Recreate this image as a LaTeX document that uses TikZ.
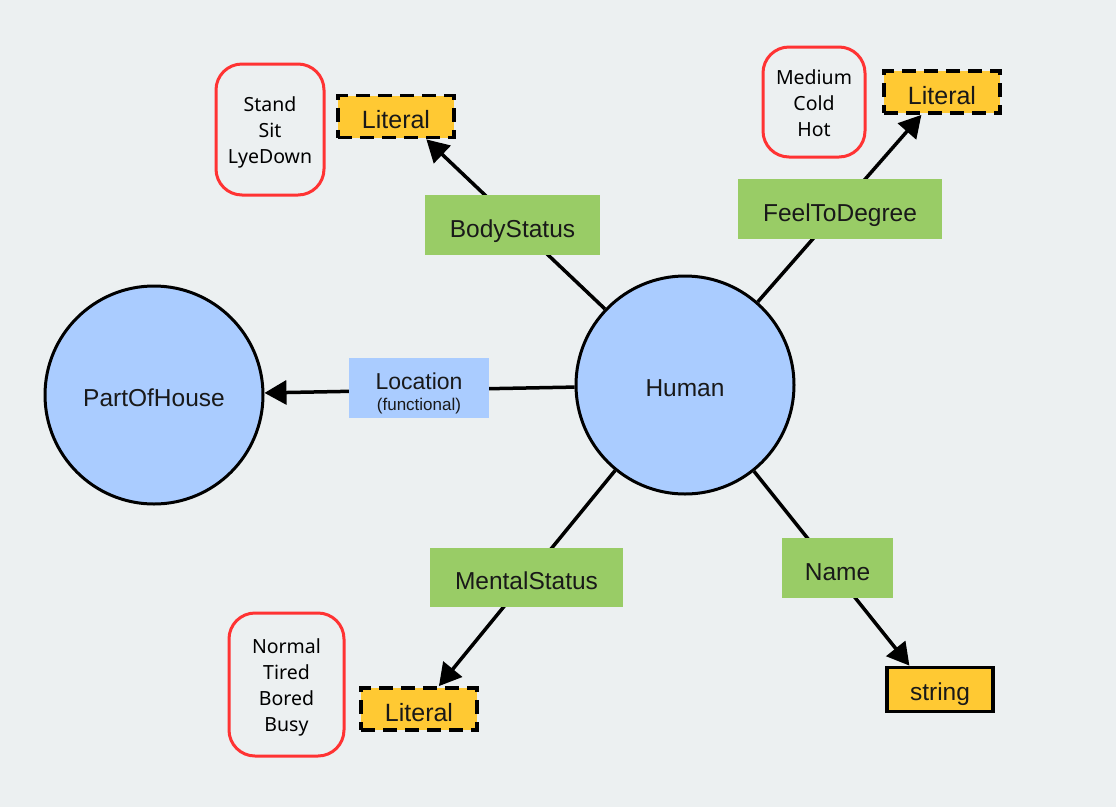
\documentclass[tikz,border=0pt]{standalone}
\usepackage{fontspec}
\setmainfont{Liberation Sans}
\newfontfamily\listfont{Noto Sans}
\usetikzlibrary{arrows.meta}
\definecolor{bg}{RGB}{236,240,241}
\definecolor{circblue}{RGB}{170,204,255}
\definecolor{relgreen}{RGB}{153,204,102}
\definecolor{lityellow}{RGB}{255,201,51}
\definecolor{listred}{RGB}{255,51,51}
\definecolor{txt}{RGB}{25,25,25}
\newcommand{\firststrut}[1]{\rule{0pt}{#1}}
\tikzset{
  classnode/.style={circle, draw=black, line width=3pt, fill=circblue, minimum size=218pt, inner sep=0pt, font=\fontsize{24.5}{28}\selectfont, text=txt, text height=23pt, text depth=0pt},
  relbox/.style={rectangle, fill=relgreen, inner sep=0pt, font=\fontsize{24.5}{28}\selectfont, text=txt, text height=24pt, text depth=0pt},
  litbox/.style={rectangle, fill=lityellow, draw=black, line width=3.8pt, dash pattern=on 14pt off 8pt, inner sep=0pt, minimum width=116pt, minimum height=42pt, font=\fontsize{25}{28}\selectfont, text=txt, text height=24pt, text depth=0pt},
  strbox/.style={rectangle, fill=lityellow, draw=black, line width=3.8pt, inner sep=0pt, minimum width=106pt, minimum height=44pt, font=\fontsize{24.5}{28}\selectfont, text=txt, text height=22pt, text depth=0pt},
  listbox/.style={rectangle, rounded corners=26pt, draw=listred, line width=3pt, fill=bg, inner sep=0pt, align=center, font=\listfont\fontsize{19.5}{26}\selectfont, text=black},
  conn/.style={line width=3.5pt, draw=black},
  arr/.style={conn, -{Triangle[length=22pt,width=24pt]}},
}
\begin{document}
\begin{tikzpicture}[x=1pt,y=-1pt]
\fill[bg] (0,0) rectangle (1116,807);
\useasboundingbox (0,0) rectangle (1116,807);

\node[classnode] (human) at (685,385) {Human};
\node[classnode] (house) at (154,395) {PartOfHouse};

\node[litbox] (lit1) at (396,116.5) {Literal};
\node[litbox] (lit2) at (942,92) {Literal};
\node[litbox] (lit3) at (419,709) {Literal};
\node[strbox] (str) at (940,689.5) {string};

\node[listbox, minimum width=108pt, minimum height=131pt] (list1) at (270,129.5) {\firststrut{20pt}Stand\\Sit\\LyeDown};
\node[listbox, minimum width=102pt, minimum height=110pt] (list2) at (814,102) {\firststrut{17pt}Medium\\Cold\\Hot};
\node[listbox, minimum width=115pt, minimum height=143pt] (list3) at (286.5,684.5) {\firststrut{21pt}Normal\\Tired\\Bored\\Busy};

\draw[arr] (human) -- (lit1.-37);
\draw[arr] (human) -- (lit2.228);
\draw[arr] (human) -- (lit3.49);
\draw[arr] (human) -- (str.142);
\draw[arr] (human) -- (house);

\node[relbox, minimum width=175pt, minimum height=60pt] (bodystatus) at (512.5,225) {BodyStatus};
\node[relbox, minimum width=204pt, minimum height=60pt] (feel) at (840,209) {FeelToDegree};
\node[relbox, minimum width=193pt, minimum height=59pt] (mental) at (526.5,577.5) {MentalStatus};
\node[relbox, minimum width=111pt, minimum height=60pt] (name) at (837.5,568) {Name};
\node[rectangle, fill=circblue, inner sep=0pt, minimum width=140pt, minimum height=60pt, align=center, text=txt, font=\fontsize{23}{21}\selectfont] (location) at (419,388)
  {\firststrut{27pt}Location\\{\fontsize{17}{20}\selectfont (functional)}};
\end{tikzpicture}
\end{document}
